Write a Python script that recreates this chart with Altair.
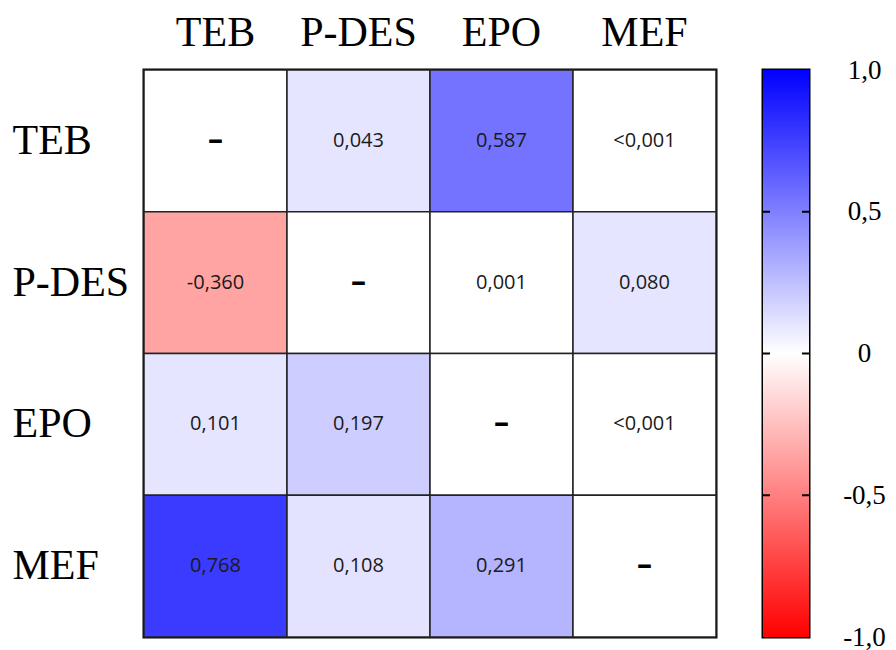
import altair as alt
import pandas as pd

variables = ["TEB", "P-DES", "EPO", "MEF"]

# cell texts, row by row (lower triangle: r, upper triangle: p)
row_TEB = ["–", "0,043", "0,587", "<0,001"]
row_PDES = ["-0,360", "–", "0,001", "0,080"]
row_EPO = ["0,101", "0,197", "–", "<0,001"]
row_MEF = ["0,768", "0,108", "0,291", "–"]

# colour level of each cell (-1..1)
shade_TEB = [0.0, 0.10, 0.55, 0.0]
shade_PDES = [-0.360, 0.0, 0.0, 0.10]
shade_EPO = [0.101, 0.197, 0.0, 0.0]
shade_MEF = [0.768, 0.108, 0.291, 0.0]

legend_ticks = [-1.0, -0.5, 0.0, 0.5, 1.0]
inner_ticks = [-0.5, 0.0, 0.5]

texts = [row_TEB, row_PDES, row_EPO, row_MEF]
shades = [shade_TEB, shade_PDES, shade_EPO, shade_MEF]
records = []
for i, r in enumerate(variables):
    for j, c in enumerate(variables):
        records.append({"row": r, "col": c, "label": texts[i][j], "shade": shades[i][j]})
df = pd.DataFrame(records)

W, H = 572, 567
serif = "Liberation Serif"

color_scale = alt.Scale(domain=[-1, 0, 1], range=["#ff0000", "#ffffff", "#0000ff"], interpolate="rgb")

base = alt.Chart(df).encode(
    x=alt.X("col:N", sort=variables, title=None,
            axis=alt.Axis(orient="top", labelAngle=0, labelFont=serif, labelFontSize=42,
                          labelColor="black", labelPadding=16, ticks=False, domain=False)),
    y=alt.Y("row:N", sort=variables, title=None,
            axis=alt.Axis(labelFont=serif, labelFontSize=42, labelColor="black", labelAlign="left",
                          labelBaseline="middle", labelPadding=132, ticks=False, domain=False)),
)

cells = base.mark_rect(stroke="#222222", strokeWidth=1.5).encode(
    color=alt.Color("shade:Q", scale=color_scale, legend=None)
)
nums = base.transform_filter("datum.label != '–'").mark_text(
    font="Open Sans", fontSize=20, color="#1a1a1a"
).encode(text="label:N")
dashes = base.transform_filter("datum.label == '–'").mark_text(
    font="Open Sans", fontSize=30, fontWeight="bold", color="black"
).encode(text="label:N")

heat = alt.layer(cells, nums, dashes).properties(width=W, height=H)

grad = alt.Gradient(
    gradient="linear",
    stops=[alt.GradientStop(offset=0, color="#ff0000"),
           alt.GradientStop(offset=0.5, color="#ffffff"),
           alt.GradientStop(offset=1, color="#0000ff")],
    x1=0, x2=0, y1=1, y2=0,
)
cb_scale = alt.Scale(domain=[-1, 1], nice=False, zero=False)
cb_axis = alt.Axis(orient="right", values=legend_ticks, ticks=False, domain=False, grid=False,
                   labelFont=serif, labelFontSize=27, labelColor="black",
                   labelAlign="center", labelPadding=55, labelOverlap=False,
                   labelExpr="datum.value == 0 ? '0' : replace(replace(format(datum.value, '.1f'), '.', ','), '\u2212', '-')")
bar = alt.Chart(pd.DataFrame({"lo": [-1.0], "hi": [1.0]})).mark_rect(color=grad).encode(
    y=alt.Y("lo:Q", scale=cb_scale, title=None, axis=cb_axis),
    y2="hi:Q",
)
tdf = pd.DataFrame({"t": inner_ticks})
tick_l = alt.Chart(tdf).mark_rule(color="black", strokeWidth=2).encode(
    y=alt.Y("t:Q", scale=cb_scale, title=None, axis=cb_axis), x=alt.value(0), x2=alt.value(7))
tick_r = alt.Chart(tdf).mark_rule(color="black", strokeWidth=2).encode(
    y=alt.Y("t:Q", scale=cb_scale, title=None, axis=cb_axis), x=alt.value(39), x2=alt.value(46))
colorbar = alt.layer(bar, tick_l, tick_r).properties(width=46, height=H)

chart = alt.hconcat(heat, colorbar, spacing=41).properties(
    padding={"left": 2, "top": 1, "right": 0, "bottom": 0},
    background="white",
).configure_view(stroke="black", strokeWidth=3)

chart.save("out.html", embed_options={"renderer": "svg", "actions": False})
